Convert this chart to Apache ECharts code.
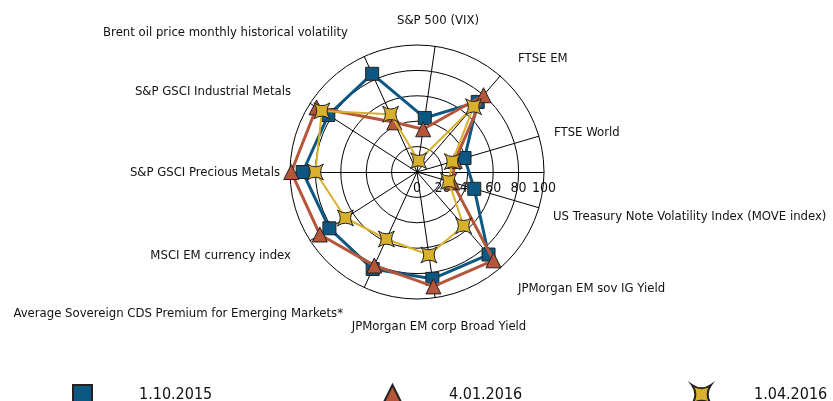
<!DOCTYPE html>
<html>
<head>
<meta charset="utf-8">
<script src="https://cdn.jsdelivr.net/npm/echarts@6/dist/echarts.min.js"></script>
<style>
  html, body { margin: 0; padding: 0; background: #fff; }
  #main { width: 833px; height: 401px; }
</style>
</head>
<body>
<div id="main"></div>
<script>
// indicators, counterclockwise from the top (ECharts radar order)
var indicatorNames = [
  "S&P 500 (VIX)",
  "Brent oil price monthly historical volatility",
  "S&P GSCI Industrial Metals",
  "S&P GSCI Precious Metals",
  "MSCI EM currency index",
  "Average Sovereign CDS Premium for Emerging Markets*",
  "JPMorgan EM corp Broad Yield",
  "JPMorgan EM sov IG Yield",
  "US Treasury Note Volatility Index (MOVE index)",
  "FTSE World",
  "FTSE EM"
];
var seriesNames = ["1.10.2015", "4.01.2016", "1.04.2016"];
var values20151001 = [43, 85, 83, 90, 82, 84, 85, 86, 47, 39, 73];
var values20160104 = [34, 43, 94, 99, 91, 81, 91, 92, 29, 31, 80];
var values20160401 = [9, 50, 89, 80, 67, 58, 66, 56, 26, 29, 68];
var scaleTicks = [0, 20, 40, 60, 80, 100];

var FONT = '"Liberation Sans Narrow", "DejaVu Sans Condensed", sans-serif';
var CENTER = [417, 172];
var RADIUS = 127;
var starPath = "path://M0,0 Q10,7 20,0 Q13,10 20,20 Q10,13 0,20 Q7,10 0,0 Z";

var colors = ["#0c5883", "#b5553a", "#d8b02b"];
var symbols = ["rect", "triangle", starPath];

// where the indicator names sit (the original places them by hand, not along the axis)
var nameAnchors = [
  [438, 21, "center"],
  [348, 33, "right"],
  [291, 92, "right"],
  [280, 173, "right"],
  [291, 256, "right"],
  [343, 314, "right"],
  [439, 327, "center"],
  [518, 289, "left"],
  [553, 217, "left"],
  [554, 133, "left"],
  [518, 59, "left"]
];

var chart = echarts.init(document.getElementById("main"));

function legendFor(i, left, gap) {
  return {
    data: [{ name: seriesNames[i], icon: symbols[i] }],
    left: left,
    top: 379,
    itemWidth: 19,
    itemHeight: 19,
    selectedMode: false,
    textStyle: {
      fontFamily: FONT,
      fontSize: 16,
      color: "#111",
      padding: [0, 0, 0, gap]
    }
  };
}

function radarSeries(i, values, lineWidth, size) {
  return {
    type: "radar",
    name: seriesNames[i],
    symbol: symbols[i],
    symbolSize: size,
    z: 2 + i,
    lineStyle: { color: colors[i], width: lineWidth },
    itemStyle: { color: colors[i], borderColor: "#222", borderWidth: 1 },
    data: [{ name: seriesNames[i], value: values }]
  };
}

var nameTexts = indicatorNames.map(function (n, i) {
  return {
    type: "text",
    x: nameAnchors[i][0],
    y: nameAnchors[i][1],
    style: {
      text: n,
      fill: "#111",
      font: "13px " + FONT,
      align: nameAnchors[i][2],
      verticalAlign: "middle"
    }
  };
});

var option = {
  animation: false,
  backgroundColor: "#fff",
  legend: [legendFor(0, 67, 42), legendFor(1, 377, 42), legendFor(2, 686, 38)],
  graphic: nameTexts,
  radar: {
    center: CENTER,
    radius: RADIUS,
    startAngle: 90 - 8.18,
    shape: "circle",
    splitNumber: 5,
    indicator: indicatorNames.map(function (n) { return { name: n, min: 0, max: 100 }; }),
    axisName: { show: false },
    axisLine: { lineStyle: { color: "#000", width: 1 } },
    splitLine: { lineStyle: { color: "#000", width: 1 } },
    splitArea: { show: false },
    axisTick: { show: false },
    axisLabel: { show: false }
  },
  // horizontal scale 0..100 to the right of the centre
  polar: { center: CENTER, radius: RADIUS },
  angleAxis: { show: false, startAngle: 0, min: 0, max: 360 },
  radiusAxis: {
    min: scaleTicks[0],
    max: scaleTicks[scaleTicks.length - 1],
    interval: 20,
    axisLine: { show: true, lineStyle: { color: "#000", width: 1 } },
    axisTick: { show: false },
    splitLine: { show: false },
    axisLabel: {
      show: true, color: "#111", fontSize: 14, fontFamily: FONT,
      verticalAlign: "top", margin: -9
    }
  },
  series: [
    radarSeries(0, values20151001, 3, 13),
    radarSeries(1, values20160104, 3, 15),
    radarSeries(2, values20160401, 2, 16)
  ]
};

chart.setOption(option);
</script>
</body>
</html>
